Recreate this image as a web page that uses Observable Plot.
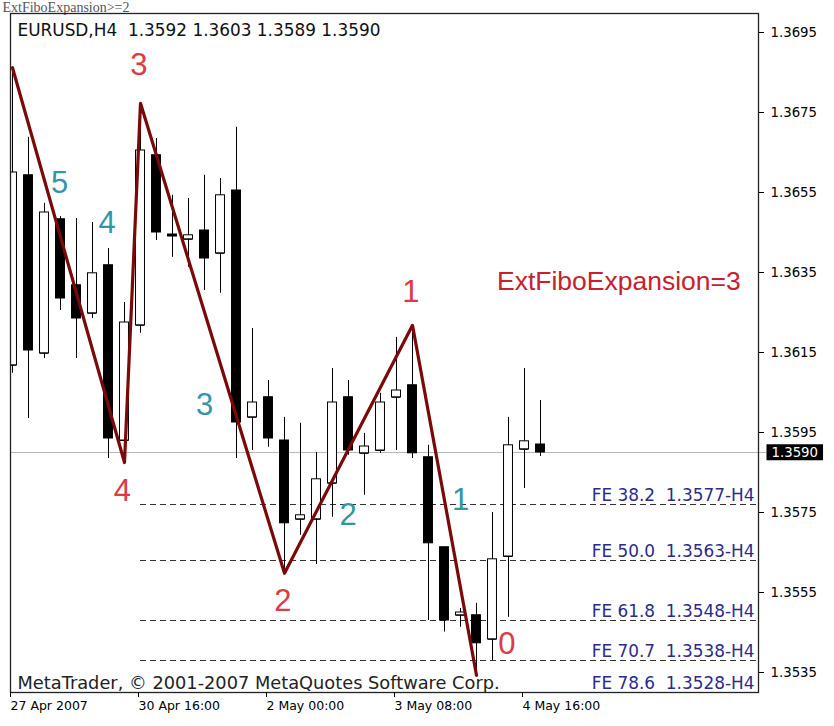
<!DOCTYPE html>
<html>
<head>
<meta charset="utf-8">
<script src="https://cdn.jsdelivr.net/npm/d3@7"></script>
<script src="https://cdn.jsdelivr.net/npm/@observablehq/plot@0.6"></script>
<style>
  body { margin: 0; background: #fff; }
  #chart svg { display: block; }
</style>
</head>
<body>
<div id="chart"></div>
<script>
// ---------- data (EURUSD H4) ----------
const symbol = "EURUSD,H4";
const barIndex = [0,1,2,3,4,5,6,7,8,9,10,11,12,13,14,15,16,17,18,19,20,21,22,23,24,25,26,27,28,29,30,31,32,33];
const openP  = [1.36118,1.36593,1.36148,1.36483,1.36318,1.36248,1.36368,1.35930,1.36218,1.36643,1.36445,1.36433,1.36455,1.36398,1.36555,1.35988,1.36038,1.35930,1.35733,1.35733,1.35823,1.36038,1.35898,1.35905,1.36038,1.36068,1.35888,1.35663,1.35493,1.35493,1.35433,1.35640,1.35908,1.3592];
const highP  = [1.36862,1.36688,1.36523,1.36490,1.36485,1.36475,1.36410,1.36275,1.36773,1.36685,1.36543,1.36535,1.36593,1.36585,1.36713,1.36210,1.36080,1.35988,1.35973,1.35900,1.36110,1.36080,1.35948,1.36048,1.36188,1.36218,1.35918,1.35663,1.35510,1.35523,1.35750,1.35988,1.36110,1.3603];
const lowP   = [1.36098,1.35985,1.36135,1.36255,1.36135,1.36235,1.35885,1.35875,1.36198,1.36430,1.36388,1.36363,1.36305,1.36298,1.35885,1.35905,1.35913,1.35598,1.35693,1.35620,1.35738,1.35893,1.35793,1.35898,1.35905,1.35885,1.35480,1.35451,1.35463,1.35343,1.35380,1.35488,1.35810,1.3589];
const closeP = [1.36600,1.36155,1.36500,1.36285,1.36235,1.36348,1.35935,1.36225,1.36655,1.36450,1.36440,1.36443,1.36385,1.36543,1.35975,1.36025,1.35935,1.35723,1.35743,1.35833,1.36025,1.35905,1.35915,1.36025,1.36055,1.35898,1.35673,1.35480,1.35500,1.35423,1.35633,1.35918,1.35928,1.3590];

// x-axis ticks (bar index) and their labels
const timeTickIndex = [0, 8, 16, 24, 32];
const timeTickLabel = ["27 Apr 2007", "30 Apr 16:00", "2 May 00:00", "3 May 08:00", "4 May 16:00"];
// y-axis ticks
const priceTicks = [1.3535, 1.3555, 1.3575, 1.3595, 1.3615, 1.3635, 1.3655, 1.3675, 1.3695];

// zigzag turning points (bar indices); alternate high / low, starting on a high
const zigIndex = [0, 7, 8, 17, 25, 29];

// zigzag point number labels (red) and wave numbers (teal)
const redLabelText  = ["3", "4", "2", "1", "0"];
const redLabelX     = [7.9, 6.86, 16.9, 24.9, 30.9];
const redLabelY     = [1.36868, 1.35803, 1.35528, 1.36300, 1.35421];
const tealLabelText = ["5", "4", "3", "2", "1"];
const tealLabelX    = [2.94, 5.92, 12.0, 20.97, 28.0];
const tealLabelY    = [1.36574, 1.36473, 1.36018, 1.35743, 1.35780];

// Fibonacci expansion levels
const fePercent = ["38.2", "50.0", "61.8", "70.7", "78.6"];
const feLevel   = [1.3577, 1.3563, 1.3548, 1.3538, 1.3528];

const noteText = "ExtFiboExpansion=3";
const noteX = 37.9, noteY = 1.363275;
const topTitle = "ExtFiboExpansion>=2";
const copyright = "MetaTrader, \u00a9 2001-2007 MetaQuotes Software Corp.";

// ---------- build tables ----------
const bars = barIndex.map((i, k) => ({i, o: openP[k], h: highP[k], l: lowP[k], c: closeP[k]}));
const zig = zigIndex.map((i, k) => ({i, p: k % 2 === 0 ? highP[i] : lowP[i]}));
const redLabels = redLabelText.map((t, k) => ({t, x: redLabelX[k], y: redLabelY[k]}));
const tealLabels = tealLabelText.map((t, k) => ({t, x: tealLabelX[k], y: tealLabelY[k]}));
const fe = fePercent.map((p, k) => ({p, v: feLevel[k]}));
const last = bars[bars.length - 1];
const fmt = d3.format(".4f");
const header = `${symbol}\u00a0 ${fmt(last.o)} ${fmt(last.h)} ${fmt(last.l)} ${fmt(last.c)}`;

const xDomain = [-0.125, 46.625];
const yDomain = [1.3530, 1.369975];
const half = 0.28;

const chart = Plot.plot({
  width: 834,
  height: 726,
  marginLeft: 10,
  marginRight: 76,
  marginTop: 13,
  marginBottom: 34,
  x: {domain: xDomain, axis: null},
  y: {domain: yDomain, axis: null},
  style: {fontFamily: "DejaVu Sans", fontSize: "13px", background: "white", color: "black", overflow: "visible"},
  marks: [
    // current price line
    Plot.ruleY([last.c], {x1: xDomain[0], x2: xDomain[1] + 0.5, stroke: "#b8b8b8", strokeWidth: 1}),
    // FE levels
    Plot.ruleY(fe, {y: "v", x1: zigIndex[2], x2: xDomain[1], stroke: "#333", strokeWidth: 1, strokeDasharray: "6,4", clip: true}),
    // candles
    Plot.ruleX(bars, {x: "i", y1: "l", y2: "h", stroke: "black", strokeWidth: 1, clip: true}),
    Plot.ruleY(bars, {y: "o", x1: d => d.i - half, x2: d => d.i + half, stroke: "black", strokeWidth: 1, clip: true}),
    Plot.rect(bars, {x1: d => d.i - half, x2: d => d.i + half, y1: "o", y2: "c",
      fill: d => d.c >= d.o ? "white" : "black", stroke: "black", strokeWidth: 1, clip: true}),
    // zigzag
    Plot.line(zig, {x: "i", y: "p", stroke: "#7a0a0a", strokeWidth: 3.2, clip: true}),
    // FE labels (kept inside the frame)
    Plot.text(fe, {y: d => Math.max(d.v, yDomain[0]), frameAnchor: "right", dx: -4, dy: -4, textAnchor: "end", lineAnchor: "bottom",
      text: d => `FE ${d.p}\u00a0 ${fmt(d.v)}-H4`, fill: "#2b2b8c", fontSize: 16.9}),
    // numbers
    Plot.text(redLabels, {x: "x", y: "y", text: "t", fill: "#dd3a44", fontSize: 31, fontFamily: "Liberation Sans", lineAnchor: "middle"}),
    Plot.text(tealLabels, {x: "x", y: "y", text: "t", fill: "#3396a6", fontSize: 31, fontFamily: "Liberation Sans", lineAnchor: "middle"}),
    Plot.text([noteText], {x: noteX, y: noteY, text: d => d, fill: "#c8202e", fontSize: 26.5, fontFamily: "Liberation Sans", lineAnchor: "middle"}),
    // header / footer texts
    Plot.text([header], {frameAnchor: "top-left", dx: 7, dy: 10, textAnchor: "start", lineAnchor: "top", text: d => d, fill: "#111", fontSize: 16.9}),
    Plot.text([copyright], {frameAnchor: "bottom-left", dx: 7, dy: -4, textAnchor: "start", lineAnchor: "bottom", text: d => d, fill: "#222", fontSize: 17.8}),
    Plot.text([topTitle], {frameAnchor: "top-left", dx: -8, dy: -2, textAnchor: "start", lineAnchor: "bottom", text: d => d, fill: "#555", fontSize: 14, fontFamily: "Liberation Serif"}),
    // frame and axes
    Plot.frame({stroke: "#222", strokeWidth: 1.3}),
    Plot.axisY(priceTicks, {anchor: "right", tickSize: 5, tickPadding: 7, tickFormat: ".4f", label: null, fontSize: 13.3}),
    Plot.axisX(timeTickIndex, {anchor: "bottom", tickSize: 5, tickPadding: 4, label: null, textAnchor: "start", dx: -2,
      tickFormat: d => timeTickLabel[timeTickIndex.indexOf(d)], fontSize: 12.5}),
    // current price box text
    Plot.text([last.c], {y: d => d, frameAnchor: "right", dx: 13, textAnchor: "start", lineAnchor: "middle",
      text: d => fmt(d), fill: "white", fontSize: 13.3, ariaDescription: "price-box"})
  ]
});
document.getElementById("chart").appendChild(chart);

// black background box behind the current price label (same local transform as the text)
d3.select(chart).selectAll('g[aria-description="price-box"] text').each(function() {
  const b = this.getBBox();
  const r = document.createElementNS("http://www.w3.org/2000/svg", "rect");
  const t = this.getAttribute("transform");
  if (t) r.setAttribute("transform", t);
  r.setAttribute("x", b.x - 5);
  r.setAttribute("y", b.y - 0.5);
  r.setAttribute("width", b.width + 10);
  r.setAttribute("height", b.height + 1);
  r.setAttribute("fill", "black");
  this.parentNode.insertBefore(r, this);
});
</script>
</body>
</html>
